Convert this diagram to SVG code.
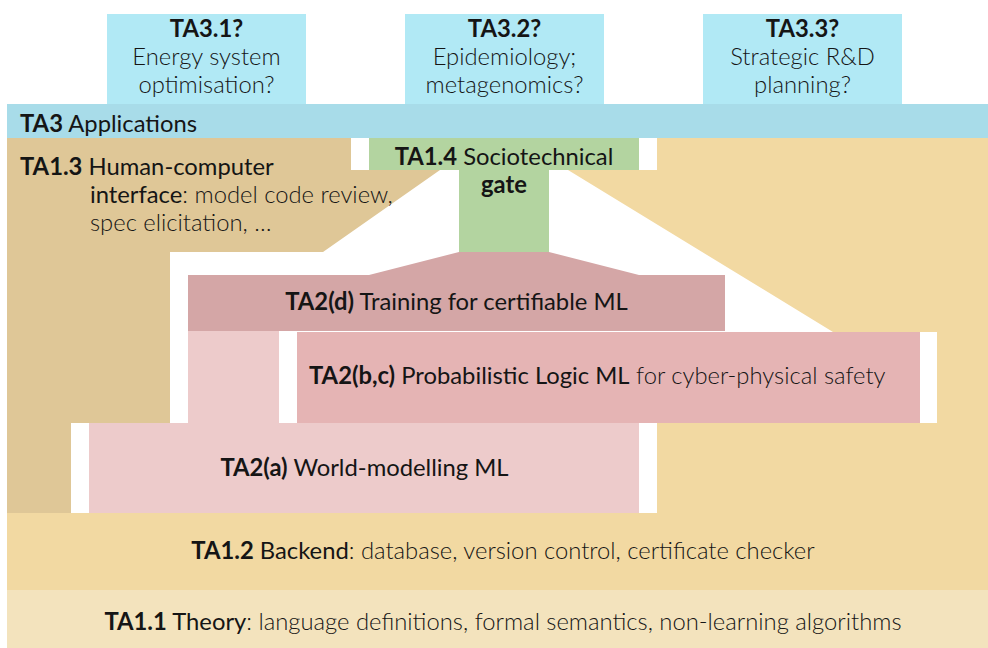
<svg xmlns="http://www.w3.org/2000/svg" width="988" height="648" viewBox="0 0 988 648">
<style>
text{font-family:Lato,"Open Sans","Liberation Sans",sans-serif;font-size:23.8px;fill:#151515}
.b{font-weight:700}
.r{font-weight:400}
.l{font-weight:300}
.c{text-anchor:middle}
</style>
<rect width="988" height="648" fill="#ffffff"/>
<g id="ta3-1"><rect x="107" y="14" width="199" height="90" fill="#b1e9f5"/>
<text class="c" x="206.5" y="37"><tspan class="b">TA3.1?</tspan><tspan class="l" x="206.5" y="65">Energy system</tspan><tspan class="l" x="206.5" y="93">optimisation?</tspan></text></g>
<g id="ta3-2"><rect x="405" y="14" width="199" height="90" fill="#b1e9f5"/>
<text class="c" x="504.5" y="37"><tspan class="b">TA3.2?</tspan><tspan class="l" x="504.5" y="65">Epidemiology;</tspan><tspan class="l" x="504.5" y="93">metagenomics?</tspan></text></g>
<g id="ta3-3"><rect x="703" y="14" width="199" height="90" fill="#b1e9f5"/>
<text class="c" x="802.5" y="37"><tspan class="b">TA3.3?</tspan><tspan class="l" x="802.5" y="65">Strategic R&amp;D</tspan><tspan class="l" x="802.5" y="93">planning?</tspan></text></g>
<g id="ta3"><rect x="7" y="104" width="981" height="34" fill="#a8dce9"/>
<text x="20" y="132"><tspan class="b">TA3</tspan><tspan class="r"> Applications</tspan></text></g>
<g id="ta1-2"><polygon points="657,138 988,138 988,590 7,590 7,513 657,513 657,423 937,423 937,332 833,332 568,170 657,170" fill="#f2d9a2"/>
<text class="c" x="503" y="559"><tspan class="b">TA1.2</tspan><tspan class="r"> Backend</tspan><tspan class="l">:  database, version control, certificate checker</tspan></text></g>
<g id="ta1-1"><rect x="7" y="590" width="981" height="58" fill="#f3e3bd"/>
<text class="c" x="503" y="630"><tspan class="b">TA1.1</tspan><tspan class="r"> Theory</tspan><tspan class="l">:  language definitions, formal semantics, non-learning algorithms</tspan></text></g>
<g id="ta1-3"><polygon points="7,138 351,138 351,170 440,170 323,252 170,252 170,423 71,423 71,513 7,513" fill="#dfc797"/>
<text x="20" y="175"><tspan class="b">TA1.3</tspan><tspan class="r"> Human-computer</tspan><tspan class="r" x="90" y="203">interface</tspan><tspan class="l">:  model code review,</tspan><tspan class="l" x="90" y="231">spec elicitation, …</tspan></text></g>
<g id="ta1-4"><polygon points="369,138 639,138 639,170 549,170 549,252 459,252 459,170 369,170" fill="#b3d4a0"/>
<text class="c" x="504" y="165"><tspan class="b">TA1.4</tspan><tspan class="r"> Sociotechnical</tspan></text>
<text class="c b" x="504" y="193">gate</text></g>
<g id="ta2-d"><polygon points="188,275 369,275 459,252 549,252 639,275 725,275 725,331 188,331" fill="#d4a6a6"/>
<text class="c" x="456.5" y="310"><tspan class="b">TA2(d)</tspan><tspan class="r"> Training for certifiable ML</tspan></text></g>
<g id="ta2-bc"><rect x="297" y="332" width="623" height="91" fill="#e5b4b4"/>
<text x="309" y="384"><tspan class="b">TA2(b,c)</tspan><tspan class="r"> Probabilistic Logic ML</tspan><tspan class="l"> for cyber-physical safety</tspan></text></g>
<g id="ta2-a"><polygon points="89,423 188,423 188,331 279,331 279,423 639,423 639,513 89,513" fill="#edcbcb"/>
<text class="c" x="364.5" y="476"><tspan class="b">TA2(a)</tspan><tspan class="r"> World-modelling ML</tspan></text></g>
</svg>
